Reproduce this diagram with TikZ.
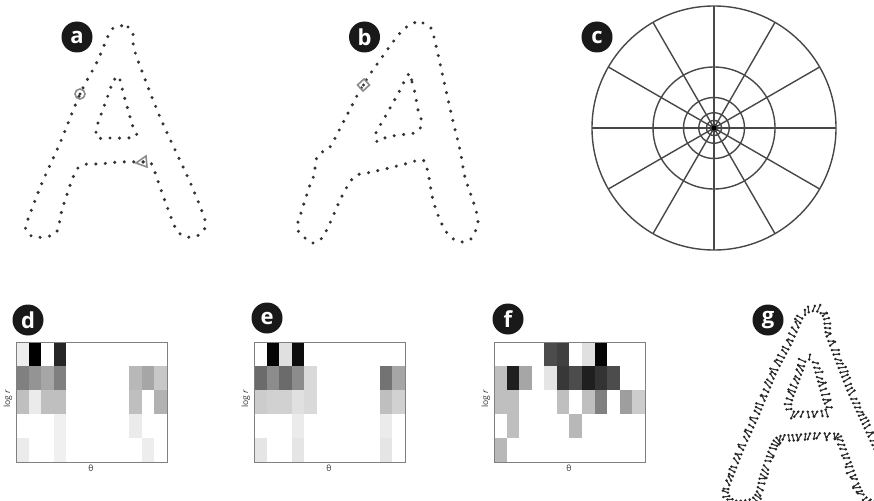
\documentclass[tikz,border=0pt]{standalone}
\usepackage{fontspec}
\setmainfont{Open Sans}
\usetikzlibrary{calc}
\newcommand{\histgrid}[3]{%
  \foreach \c/\r/\d in {#3} {\fill[black!\d] ({#1+\c*12.58},{#2+\r*24}) rectangle ++(12.58,24);}
  \draw[boxline] (#1,#2) rectangle ++(151,120);
}
\newcommand{\gloop}[3]{%
  \foreach \x/\y [remember=\x as \lx (initially #1), remember=\y as \ly (initially #2)] in {#3} {
    \pgfmathtruncatemacro{\n}{max(1,round(veclen(\x-\lx,\y-\ly)/5.2))}
    \foreach \k in {1,...,\n} {
      \pgfmathsetmacro{\ang}{78+30*rand}
      \pgfmathsetmacro{\len}{6.5+1.5*rand}
      \coordinate (gp) at ({\lx+(\x-\lx)*(\k-0.5)/\n},{\ly+(\y-\ly)*(\k-0.5)/\n});
      \coordinate (gq) at (\x,\y);
      \coordinate (gr) at ($(gp)!\len pt!\ang:(gq)$);
      \draw[gtick] (gp) -- (gr);
      \fill[gdot] (gp) circle (1.5pt) (gr) circle (1.5pt);
    }
  }
}
\begin{document}
\begin{tikzpicture}[x=1pt,y=-1pt,
  dotline/.style={draw=black!80, line width=3.4pt, line cap=round, dash pattern=on 0pt off 9.5pt},
  lbl/.style={circle, fill=black!90, minimum size=31pt, inner sep=0pt, text=white, font=\fontsize{22}{22}\selectfont\bfseries},
  cline/.style={draw=black!72, line width=1.4pt},
  boxline/.style={draw=black!50, line width=1pt},
  axlbl/.style={font=\fontsize{8.5}{8.5}\selectfont, text=black!80, inner sep=0pt},
  marker/.style={draw=black!45, line width=1.6pt},
  gtick/.style={draw=black!80, line width=1.1pt},
  gdot/.style={fill=black!85}
]
\path[fill=white, use as bounding box] (0,0) rectangle (874,500);

% ---------- panel a ----------
\draw[dotline] plot[smooth cycle, tension=0.5] coordinates {(118,26) (128,27) (133,33) (135,52) (160,117) (190,182) (205,220) (204,230) (197,236) (187,237) (178,232) (172,220) (160,187) (151,163) (142,162) (120,162) (100,164) (87,164) (78,168) (72,180) (62,210) (58,229) (53,235) (43,237) (33,237) (26,230) (27,222) (42,183) (60,143) (80,94) (97,62) (110,32)};
\draw[dotline] plot[smooth cycle, tension=0.5] coordinates {(113,80) (120,80) (123,92) (133,127) (137,135) (128,138) (107,138) (97,138) (96,132) (98,123) (110,90)};
\draw[marker] (80,94) circle (5pt);
\fill[black!80] (80,94) circle (1.7pt);
\draw[marker] (136,163) -- (146,156) -- (147,167) -- cycle;
\fill[black!80] (143,162) circle (1.7pt);
\node[lbl] (la) at (77,37) {a};

% ---------- panel b ----------
\draw[dotline] plot[smooth cycle, tension=0.5] coordinates {(413,23) (423,23) (427,25) (432,30) (437,50) (443,77) (452,117) (460,150) (465,177) (475,207) (478,222) (472,238) (463,242) (455,240) (447,233) (440,220) (433,200) (428,173) (423,160) (405,164) (385,169) (367,173) (357,175) (350,182) (340,200) (330,223) (322,238) (313,243) (305,238) (297,228) (302,210) (310,185) (315,173) (315,167) (317,157) (322,152) (330,147) (347,115) (363,85) (380,60) (400,33)};
\draw[dotline] plot[smooth cycle, tension=0.5] coordinates {(410,73) (412,82) (415,93) (418,110) (422,123) (417,132) (407,134) (387,137) (378,142) (375,135) (385,117) (400,90) (405,80)};
\draw[marker] (364,79) -- (369.5,85) -- (363,91) -- (357.5,85) -- cycle;
\fill[black!80] (363.5,85) circle (1.7pt);
\node[lbl] (lb) at (364.5,37) {b};

% ---------- panel c ----------
\coordinate (cc) at (714,128);
\foreach \rr in {122,61,30.5,15.25,7.6,3.8} {\draw[cline] (cc) circle (\rr pt);}
\foreach \a in {0,30,...,150} {\draw[cline] (cc) ++(\a:122pt) -- ++(\a+180:244pt);}
\fill[black] (cc) circle (2.5pt);
\node[lbl] (lc) at (597,37) {c};

% ---------- panel d ----------
\histgrid{16}{342}{0/0/7, 1/0/100, 3/0/85, 0/1/50, 1/1/42, 2/1/35, 3/1/50, 9/1/28, 10/1/35, 11/1/22, 0/2/25, 1/2/8, 2/2/25, 3/2/25, 9/2/25, 11/2/30, 3/3/6, 9/3/8, 0/4/8, 3/4/6, 10/4/7}
\node[axlbl, rotate=90] (dlr) at (8,399) {log \textit{r}};
\node[axlbl] (dth) at (91,468) {θ};
\node[lbl] (ld) at (28,320) {d};

% ---------- panel e ----------
\histgrid{254}{342}{1/0/98, 2/0/12, 3/0/95, 0/1/58, 1/1/45, 2/1/58, 3/1/45, 4/1/15, 10/1/55, 11/1/35, 0/2/20, 1/2/18, 2/2/18, 3/2/12, 4/2/15, 10/2/25, 11/2/18, 3/3/8, 10/3/8, 0/4/10, 3/4/10, 10/4/10}
\node[axlbl, rotate=90] (elr) at (246,399) {log \textit{r}};
\node[axlbl] (eth) at (329,468) {θ};
\node[lbl] (le) at (267,318) {e};

% ---------- panel f ----------
\histgrid{494}{342}{4/0/70, 5/0/75, 7/0/12, 8/0/98, 0/1/25, 1/1/88, 2/1/35, 4/1/10, 5/1/78, 6/1/70, 7/1/88, 8/1/80, 9/1/70, 0/2/25, 1/2/25, 5/2/25, 7/2/25, 8/2/50, 10/2/38, 11/2/20, 1/3/25, 6/3/28, 0/4/28}
\node[axlbl, rotate=90] (flr) at (486,399) {log \textit{r}};
\node[axlbl] (fth) at (569,468) {θ};
\node[lbl] (lf) at (508,319) {f};

% ---------- panel g ----------
\begin{scope}[shift={(704.3,287.5)}, scale=0.9]
\gloop{110}{32}{118/26, 128/27, 133/33, 135/52, 160/117, 190/182, 205/220, 204/230, 197/236, 187/237, 178/232, 172/220, 160/187, 151/163, 142/162, 120/162, 100/164, 87/164, 78/168, 72/180, 62/210, 58/229, 53/235, 43/237, 33/237, 26/230, 27/222, 42/183, 60/143, 80/94, 97/62, 110/32}
\gloop{110}{90}{113/80, 120/80, 123/92, 133/127, 137/135, 128/138, 107/138, 97/138, 96/132, 98/123, 110/90}
\end{scope}
\node[lbl] (lg) at (768,320) {g};
\end{tikzpicture}
\end{document}
